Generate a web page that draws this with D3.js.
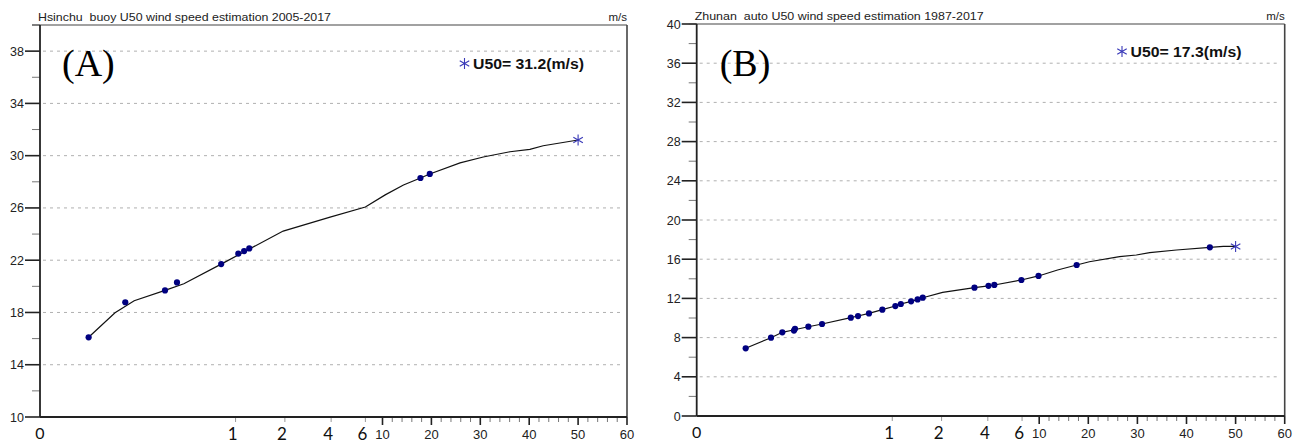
<!DOCTYPE html>
<html><head><meta charset="utf-8">
<script src="https://cdn.jsdelivr.net/npm/d3@7"></script>
<style>
html,body{margin:0;padding:0;background:#fff;}
svg{display:block;}
text{white-space:pre;}
</style></head>
<body>
<svg id="chart" width="1306" height="443"></svg>
<script>
// ---------- DATA ----------
const titleA = "Hsinchu  buoy U50 wind speed estimation 2005-2017";
const titleB = "Zhunan  auto U50 wind speed estimation 1987-2017";
const panelLabels = ["(A)", "(B)"];
const legendA = "U50= 31.2(m/s)";
const legendB = "U50= 17.3(m/s)";
const unitLabel = "m/s";

// x axis (return-period axis): original numeric ticks and overlaid labels
const xMajorTicks = [10, 20, 30, 40, 50, 60];
const xMinorTicks = [12,14,16,18,22,24,26,28,32,34,36,38,42,44,46,48,52,54,56,58];
const xOverlayTickPos = [5.71, 7.15, 8.5, 9.5];
const xOverlayLabels = ["1", "2", "4", "6"];
const xZeroLabel = "0";

// y ticks
const yTicksA = [10,12,14,16,18,20,22,24,26,28,30,32,34,36,38,40];
const yMajorA = [10,14,18,22,26,30,34,38];
const yTicksB = [0,2,4,6,8,10,12,14,16,18,20,22,24,26,28,30,32,34,36,38,40];
const yMajorB = [0,4,8,12,16,20,24,28,32,36,40];

// Panel A: observed points
const obsPeriodA = [1.42, 2.49, 3.65, 4.0, 5.29, 5.79, 5.96, 6.11, 17.76, 19.67];
const obsSpeedA  = [16.1, 18.78, 19.69, 20.3, 21.7, 22.5, 22.7, 22.9, 28.29, 28.6];
// Panel A: fitted curve
const fitPeriodA = [1.42, 2.19, 2.75, 3.65, 4.2, 5.29, 6.11, 7.1, 8.47, 9.5, 10.55, 14.29, 17.76, 19.67, 25.86, 30.61, 36.06, 40.14, 42.86, 50];
const fitSpeedA  = [16.1, 17.98, 18.9, 19.69, 20.2, 21.7, 22.85, 24.23, 25.3, 26.07, 27.0, 27.75, 28.29, 28.6, 29.45, 29.9, 30.3, 30.48, 30.76, 31.2];
const u50PeriodA = 50, u50SpeedA = 31.2;

// Panel B: observed points
const obsPeriodB = [1.43, 2.17, 2.5, 2.84, 2.87, 3.26, 3.66, 4.5, 4.71, 5.03, 5.42, 5.8, 5.96, 6.26, 6.45, 6.6, 8.11, 8.52, 8.69, 9.48, 9.98, 17.63, 44.76];
const obsSpeedB  = [6.91, 7.99, 8.54, 8.72, 8.9, 9.11, 9.39, 10.03, 10.2, 10.47, 10.85, 11.22, 11.43, 11.7, 11.9, 12.07, 13.09, 13.28, 13.37, 13.88, 14.29, 15.41, 17.21];
// Panel B: fitted curve
const fitPeriodB = [1.43, 2.17, 2.5, 2.85, 3.26, 3.66, 4.5, 4.71, 5.03, 5.42, 5.8, 5.96, 6.26, 6.45, 6.6, 7.18, 8.11, 8.52, 8.69, 9.48, 9.98, 13.74, 17.63, 20.22, 26.36, 29.78, 32.5, 37.96, 44.76, 47.5, 50];
const fitSpeedB  = [6.91, 7.99, 8.54, 8.8, 9.11, 9.39, 10.03, 10.2, 10.47, 10.85, 11.22, 11.43, 11.7, 11.9, 12.07, 12.62, 13.09, 13.28, 13.37, 13.88, 14.29, 14.9, 15.41, 15.74, 16.26, 16.43, 16.67, 16.94, 17.21, 17.3, 17.3];
const u50PeriodB = 50, u50SpeedB = 17.3;

// ---------- DRAW ----------
const svg = d3.select("#chart");
svg.append("rect").attr("width",1306).attr("height",443).attr("fill","#fff");

const AXIS = "#222", GRID = "#b0b0b0", MINOR = "#777", DOT = "#000080", STAR = "#3a3ab8";
const sans = "Liberation Sans, Arial, Helvetica, sans-serif";

function starPath(r){
  let p = "";
  [90, 30, 150].forEach(a => {
    const t = a*Math.PI/180, dx = r*Math.cos(t), dy = r*Math.sin(t);
    p += `M${-dx},${-dy}L${dx},${dy}`;
  });
  return p;
}

function panel(cfg){
  const g = svg.append("g");
  const {left, right, top, bottom} = cfg;
  const x = d3.scaleLinear().domain([0, 10, 60]).range([left, left + 342.5, right]);
  const y = d3.scaleLinear().domain(cfg.yDomain).range([bottom, top]);

  // grid lines (dashed) at major y ticks
  g.selectAll(".grid").data(cfg.yMajor.filter(v => v > cfg.yDomain[0] && v < cfg.yDomain[1]))
    .enter().append("line")
    .attr("x1", left + 3).attr("x2", right - 4)
    .attr("y1", d => y(d)).attr("y2", d => y(d))
    .attr("stroke", GRID).attr("stroke-width", 1).attr("stroke-dasharray", "3,4");

  // y ticks
  g.selectAll(".ytick").data(cfg.yTicks).enter().append("line")
    .attr("x1", d => cfg.yMajor.includes(d) ? left - 15 : left - 8)
    .attr("x2", left)
    .attr("y1", d => y(d)).attr("y2", d => y(d))
    .attr("stroke", d => cfg.yMajor.includes(d) ? AXIS : MINOR)
    .attr("stroke-width", d => cfg.yMajor.includes(d) ? 1.6 : 1);
  g.selectAll(".ylab").data(cfg.yMajor).enter().append("text")
    .attr("x", left - 16).attr("y", d => y(d)).attr("dy", "0.36em")
    .attr("text-anchor", "end").attr("font-family", sans).attr("font-size", 12.5)
    .attr("fill", "#222").text(d => d);

  // x ticks
  g.selectAll(".xmin").data(xMinorTicks).enter().append("line")
    .attr("x1", d => x(d)).attr("x2", d => x(d))
    .attr("y1", bottom).attr("y2", bottom + 5)
    .attr("stroke", MINOR).attr("stroke-width", 1);
  g.selectAll(".xov").data(xOverlayTickPos).enter().append("line")
    .attr("x1", d => x(d)).attr("x2", d => x(d))
    .attr("y1", bottom).attr("y2", bottom + 5)
    .attr("stroke", "#999").attr("stroke-width", 1);
  g.selectAll(".xmaj").data(xMajorTicks).enter().append("line")
    .attr("x1", d => x(d)).attr("x2", d => x(d))
    .attr("y1", bottom).attr("y2", bottom + 8)
    .attr("stroke", AXIS).attr("stroke-width", 1.6);
  g.selectAll(".xlab").data(xMajorTicks).enter().append("text")
    .attr("x", d => x(d)).attr("y", bottom + 22)
    .attr("text-anchor", "middle").attr("font-family", sans).attr("font-size", 13)
    .attr("fill", "#222").text(d => d);
  g.selectAll(".xovlab").data(xOverlayTickPos).enter().append("text")
    .attr("x", d => x(d) - 3).attr("y", bottom + 22.5)
    .attr("text-anchor", "middle").attr("font-family", "Lato, 'Open Sans', sans-serif").attr("font-size", 17)
    .attr("fill", "#111").text((d, i) => xOverlayLabels[i]);
  g.append("text").attr("x", x(0)).attr("y", bottom + 22)
    .attr("text-anchor", "middle").attr("font-family", "Lato, 'Open Sans', sans-serif").attr("font-size", 16)
    .attr("fill", "#111").text(xZeroLabel);

  // frame
  g.append("line").attr("x1", left - 8).attr("x2", right).attr("y1", top).attr("y2", top)
    .attr("stroke", "#444").attr("stroke-width", 1.2);
  g.append("line").attr("x1", right).attr("x2", right).attr("y1", top).attr("y2", bottom)
    .attr("stroke", "#444").attr("stroke-width", 1.6);
  g.append("line").attr("x1", left).attr("x2", left).attr("y1", top).attr("y2", bottom)
    .attr("stroke", AXIS).attr("stroke-width", 1.8);
  g.append("line").attr("x1", left).attr("x2", right).attr("y1", bottom).attr("y2", bottom)
    .attr("stroke", AXIS).attr("stroke-width", 1.8);

  // title and unit
  g.append("text").attr("x", left - 2).attr("y", top - 4)
    .attr("font-family", sans).attr("font-size", 11.5).attr("fill", "#222")
    .attr("textLength", cfg.titleLen).attr("lengthAdjust", "spacingAndGlyphs")
    .text(cfg.title);
  g.append("text").attr("x", right).attr("y", top - 4).attr("text-anchor", "end")
    .attr("font-family", sans).attr("font-size", 11.5).attr("fill", "#222").text(unitLabel);

  // panel label
  g.append("text").attr("x", left + cfg.labelDx).attr("y", 76)
    .attr("font-family", "'Liberation Serif', 'Times New Roman', serif").attr("font-size", 38)
    .attr("fill", "#000").text(cfg.panelLabel);

  // fitted line
  const fit = cfg.fitP.map((p, i) => [p, cfg.fitS[i]]);
  g.append("path").datum(fit)
    .attr("d", d3.line().x(d => x(d[0])).y(d => y(d[1])))
    .attr("fill", "none").attr("stroke", "#111").attr("stroke-width", 1.2);

  // observed points
  g.selectAll(".dot").data(cfg.obsP.map((p, i) => [p, cfg.obsS[i]])).enter().append("circle")
    .attr("cx", d => x(d[0])).attr("cy", d => y(d[1])).attr("r", 3.1)
    .attr("fill", DOT);

  // U50 star
  g.append("path").attr("d", starPath(5.5))
    .attr("transform", `translate(${x(cfg.u50P)},${y(cfg.u50S)})`)
    .attr("stroke", STAR).attr("stroke-width", 1.1).attr("fill", "none");

  // legend
  g.append("path").attr("d", starPath(5.5))
    .attr("transform", `translate(${cfg.legX},${cfg.legY})`)
    .attr("stroke", STAR).attr("stroke-width", 1.1).attr("fill", "none");
  g.append("text").attr("x", cfg.legX + 8.5).attr("y", cfg.legY).attr("dy", "0.36em")
    .attr("font-family", sans).attr("font-size", 14.5).attr("font-weight", "bold")
    .attr("textLength", 111).attr("lengthAdjust", "spacingAndGlyphs")
    .attr("fill", "#111").text(cfg.legend);
}

panel({
  left: 40, right: 627, top: 25, bottom: 417,
  yDomain: [10, 40], yTicks: yTicksA, yMajor: yMajorA,
  title: titleA, titleLen: 293, panelLabel: panelLabels[0], labelDx: 22,
  fitP: fitPeriodA, fitS: fitSpeedA, obsP: obsPeriodA, obsS: obsSpeedA,
  u50P: u50PeriodA, u50S: u50SpeedA,
  legX: 464.5, legY: 63.5, legend: legendA
});
panel({
  left: 696.7, right: 1284.7, top: 24, bottom: 416,
  yDomain: [0, 40], yTicks: yTicksB, yMajor: yMajorB,
  title: titleB, titleLen: 289, panelLabel: panelLabels[1], labelDx: 23,
  fitP: fitPeriodB, fitS: fitSpeedB, obsP: obsPeriodB, obsS: obsSpeedB,
  u50P: u50PeriodB, u50S: u50SpeedB,
  legX: 1122, legY: 51.5, legend: legendB
});
</script>
</body></html>
